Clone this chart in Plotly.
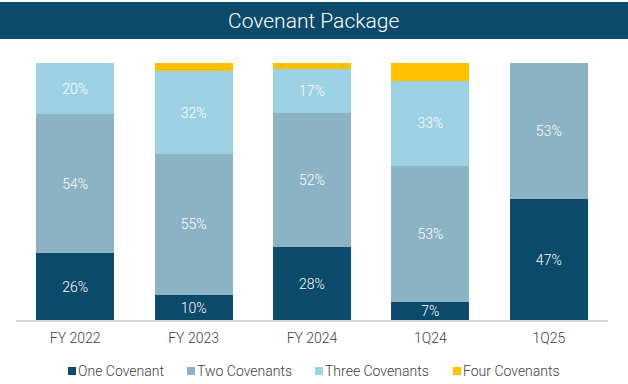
import plotly.graph_objects as go

categories = ["FY 2022", "FY 2023", "FY 2024", "1Q24", "1Q25"]
one_cov = [26, 9.7, 28.4, 7, 47]
two_cov = [54, 55, 52.1, 53, 53]
three_cov = [20, 32, 17.2, 33, 0]
four_cov = [0, 3.3, 2.3, 7, 0]

series_names = ["One Covenant", "Two Covenants", "Three Covenants", "Four Covenants"]
series_vals = [one_cov, two_cov, three_cov, four_cov]
series_colors = ["#0b4a6b", "#8bb3c4", "#9dd2e4", "#ffc000"]
series_labels = [True, True, True, False]

W, H = 628, 384
L, R, T, B = 16, 20, 63, 64
pw, ph = W - L - R, H - T - B
BASE = H - B  # pixel y of baseline


def px_x(x):
    return (x - L) / pw


def px_y(y):
    return (BASE - y) / ph


fig = go.Figure()
for name, vals, color, show_text in zip(series_names, series_vals, series_colors, series_labels):
    texts = [f"{round(v):.0f}%" if (show_text and v > 0) else "" for v in vals]
    fig.add_trace(go.Bar(
        name=name, x=categories, y=vals, marker=dict(color=color, line=dict(width=0)),
        text=texts, textposition="inside", insidetextanchor="middle", textangle=0,
        constraintext="none",
        textfont=dict(color="white", size=14, family="Roboto", weight=300),
        hoverinfo="skip", showlegend=False,
    ))

fig.update_layout(
    barmode="stack", bargap=0.34, width=W, height=H,
    margin=dict(l=L, r=R, t=T, b=B),
    paper_bgcolor="white", plot_bgcolor="white",
    font=dict(family="Roboto", color="#404040", size=14),
    showlegend=False,
    xaxis=dict(showline=True, linecolor="#d9d9d9", linewidth=1.5, ticks="outside", ticklen=4,
               tickcolor="rgba(0,0,0,0)", tickfont=dict(size=14, color="#404040", family="Roboto", weight=300),
               showgrid=False, fixedrange=True),
    yaxis=dict(range=[0, 100], visible=False, showgrid=False, fixedrange=True),
)

# title banner
fig.add_shape(type="rect", xref="paper", yref="paper",
              x0=px_x(0), x1=px_x(W), y0=px_y(39), y1=px_y(2),
              fillcolor="#0b4a6b", line=dict(width=0), layer="above")
fig.add_annotation(text="Covenant Package", xref="paper", yref="paper",
                   x=px_x(313), y=px_y(21), xanchor="center", yanchor="middle",
                   showarrow=False, font=dict(size=21, color="white", family="Roboto", weight=300))

# legend (small squares + text)
legend_sq_x = [68, 187, 315, 453]
for name, color, sx in zip(series_names, series_colors, legend_sq_x):
    fig.add_shape(type="rect", xref="paper", yref="paper",
                  x0=px_x(sx), x1=px_x(sx + 8), y0=px_y(375), y1=px_y(367),
                  fillcolor=color, line=dict(width=0))
    fig.add_annotation(text=name, xref="paper", yref="paper",
                       x=px_x(sx + 10), y=px_y(371), xanchor="left", yanchor="middle",
                       showarrow=False, xshift=-2,
                       font=dict(size=14, color="#404040", family="Roboto", weight=300))

fig.write_html("out.html", config={"displayModeBar": False},
               post_script="document.body.style.margin='0';document.body.style.padding='0';")
